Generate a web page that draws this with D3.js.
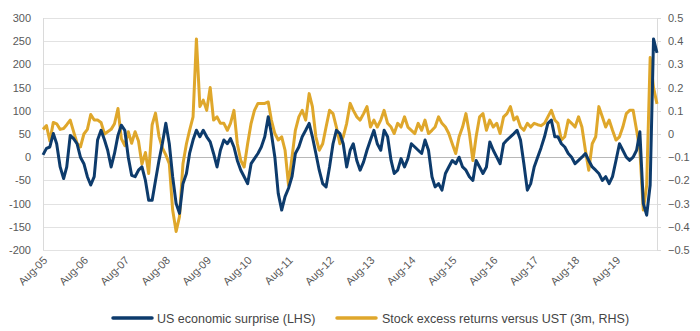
<!DOCTYPE html>
<html>
<head>
<meta charset="utf-8">
<script src="https://cdn.jsdelivr.net/npm/d3@7"></script>
<style>
  body { margin: 0; background: #fff; }
  text { font-family: "Liberation Sans", Arial, sans-serif; }
</style>
</head>
<body>
<script>
// monthly observations, Aug-05 .. Aug-20
var startMonth = new Date(2005, 7, 1);

var surprise = [
  5, 19, 22, 51, 29, -21, -46, -21, 47, 40, 29, 0,
  -14, -42, -60, -42, 37, 58, 37, 15, -21, 8, 47, 69,
  58, 0, -39, -42, -28, -21, -50, -93, -93, -50, -7, 29,
  73, 29, -42, -100, -121, -57, -35, 8, 37, 58, 44, 58,
  44, 33, 8, -21, 15, 37, 29, 40, 22, -7, -28, -42,
  -57, -14, -3, 8, 22, 44, 87, 51, 0, -78, -114, -85,
  -67, -42, 8, 22, 44, 58, 73, 44, 8, -28, -57, -64,
  -21, 29, 58, 51, 29, -21, 15, 29, -7, -28, -10, 15,
  37, 58, 29, 15, 58, 44, -7, -35, -28, -3, -21, -3,
  29, 22, 15, 8, 37, 15, -42, -64, -57, -71, -35, -21,
  -7, -14, 0, -21, -28, -42, -50, -7, -21, -35, -21, 33,
  15, 0, -14, 29, 37, 44, 51, 58, 37, -14, -71, -57,
  -21, 0, 20, 44, 73, 80, 44, 44, 29, 22, 8, 0,
  -14, -7, 0, 8, -7, -21, -28, -35, -50, -42, -57, -42,
  -7, 29, 15, 0, -7, 0, 15, 55, -100, -125, -60, 255,
  225
];

var excessRet = [
  0.02, 0.036, -0.03, 0.05, 0.044, 0.02, 0.024, 0.04, 0.06, 0.01, -0.04, -0.056,
  0, 0.02, 0.084, 0.06, 0.06, 0.05, 0, 0.01, 0.02, 0.044, 0.11, -0.02,
  -0.05, 0.01, -0.04, 0.01, -0.03, -0.13, -0.08, -0.17, 0.04, 0.09, -0.01, -0.06,
  -0.09, -0.128, -0.328, -0.42, -0.356, -0.128, -0.042, 0.016, 0.074, 0.41, 0.118, 0.146,
  0.102, 0.2, 0.06, 0.074, 0.046, 0.046, 0.016, 0.046, 0.102, -0.042, -0.114, -0.142,
  -0.042, 0.046, 0.102, 0.132, 0.132, 0.132, 0.138, 0.06, 0.002, -0.026, -0.012, -0.07,
  -0.22, -0.1, 0.016, 0.074, 0.102, 0.06, 0.174, 0.118, -0.012, -0.07, -0.042, 0.03,
  0.102, 0.088, 0.03, -0.042, -0.012, 0.046, 0.132, 0.102, 0.074, 0.06, 0.088, 0.118,
  0.03, 0.06, 0.03, 0.06, 0.102, 0.046, 0.03, 0.002, 0.046, 0.03, 0.074, 0.03,
  0.016, 0.002, 0.046, 0.016, 0.06, 0.002, 0.016, 0.03, 0.074, 0.046, 0.03, 0.002,
  -0.042, -0.084, -0.012, 0.03, 0.088, 0.002, -0.114, -0.012, 0.074, 0.088, 0.016, 0.06,
  0.03, 0.046, 0.002, 0.074, 0.088, 0.118, 0.06, 0.074, 0.03, 0.016, 0.046, 0.03,
  0.046, 0.04, 0.036, 0.046, 0.074, 0.102, 0.06, 0.046, -0.026, -0.012, 0.06, 0.046,
  0.03, 0.074, 0.03, -0.07, -0.156, -0.042, -0.012, 0.118, 0.074, 0.03, 0.06, 0.016,
  -0.026, -0.012, 0.03, 0.088, 0.102, 0.102, 0.016, -0.07, -0.328, -0.22, 0.33, 0.2,
  0.13
];

var leftTicks = [-200, -150, -100, -50, 0, 50, 100, 150, 200, 250, 300];
var rightTicks = [-0.5, -0.4, -0.3, -0.2, -0.1, 0, 0.1, 0.2, 0.3, 0.4, 0.5];
var tickYears = d3.range(2005, 2020);
var seriesNames = ["US economic surprise (LHS)", "Stock excess returns versus UST (3m, RHS)"];

var navy = "#0d3b6c", gold = "#dfa72b";

var width = 700, height = 331;
var margin = {top: 18, right: 43, bottom: 81, left: 43};

var svg = d3.select("body").append("svg")
  .attr("width", width)
  .attr("height", height);

var dates = surprise.map((d, i) => d3.timeMonth.offset(startMonth, i));

var x = d3.scaleTime()
  .domain([dates[0], dates[dates.length - 1]])
  .range([margin.left, width - margin.right]);

var yL = d3.scaleLinear().domain([-200, 300]).range([height - margin.bottom, margin.top]);
var yR = d3.scaleLinear().domain([-0.5, 0.5]).range([height - margin.bottom, margin.top]);

// gridlines
svg.append("g")
  .selectAll("line")
  .data(leftTicks)
  .join("line")
  .attr("x1", margin.left)
  .attr("x2", width - margin.right)
  .attr("y1", d => Math.round(yL(d)) + 0.5)
  .attr("y2", d => Math.round(yL(d)) + 0.5)
  .attr("stroke", d => d === 0 ? "#b8b8b8" : "#e2e2e2")
  .attr("stroke-width", 1);

// vertical axis lines
svg.append("line")
  .attr("x1", margin.left + 0.5).attr("x2", margin.left + 0.5)
  .attr("y1", yL(300)).attr("y2", yL(-200))
  .attr("stroke", "#dadada");
svg.append("line")
  .attr("x1", width - margin.right + 0.5).attr("x2", width - margin.right + 0.5)
  .attr("y1", yR(0.5)).attr("y2", yR(-0.5))
  .attr("stroke", "#dadada");

// right-hand small ticks
svg.append("g")
  .selectAll("line")
  .data(rightTicks)
  .join("line")
  .attr("x1", width - margin.right)
  .attr("x2", width - margin.right + 4)
  .attr("y1", d => Math.round(yR(d)) + 0.5)
  .attr("y2", d => Math.round(yR(d)) + 0.5)
  .attr("stroke", "#dadada");

// left labels
svg.append("g")
  .selectAll("text")
  .data(leftTicks)
  .join("text")
  .attr("x", 31)
  .attr("y", d => yL(d))
  .attr("dy", "0.36em")
  .attr("text-anchor", "end")
  .attr("font-size", 11)
  .attr("fill", "#595959")
  .text(d => d);

// right labels
svg.append("g")
  .selectAll("text")
  .data(rightTicks)
  .join("text")
  .attr("x", 668)
  .attr("y", d => yR(d))
  .attr("dy", "0.36em")
  .attr("text-anchor", "start")
  .attr("font-size", 11)
  .attr("fill", "#595959")
  .text(d => d === 0 ? "0" : d3.format(".1f")(d));

// x labels, rotated
svg.append("g")
  .selectAll("text")
  .data(tickYears)
  .join("text")
  .attr("transform", d => "translate(" + (x(new Date(d, 7, 1)) + 5) + "," + 261 + ") rotate(-45)")
  .attr("text-anchor", "end")
  .attr("font-size", 11)
  .attr("fill", "#595959")
  .text(d => "Aug-" + String(d).slice(2));

// lines
var lineL = d3.line().x((d, i) => x(dates[i])).y(d => yL(d));
var lineR = d3.line().x((d, i) => x(dates[i])).y(d => yR(d));

svg.append("path")
  .datum(excessRet)
  .attr("d", lineR)
  .attr("fill", "none")
  .attr("stroke", gold)
  .attr("stroke-width", 3)
  .attr("stroke-linejoin", "round");

svg.append("path")
  .datum(surprise)
  .attr("d", lineL)
  .attr("fill", "none")
  .attr("stroke", navy)
  .attr("stroke-width", 3)
  .attr("stroke-linejoin", "round");

// legend
var legend = svg.append("g");
var legendItems = [
  {name: seriesNames[0], color: navy, x0: 113, x1: 152, tx: 157},
  {name: seriesNames[1], color: gold, x0: 337, x1: 376, tx: 382}
];
legendItems.forEach(function(it){
  legend.append("line")
    .attr("x1", it.x0).attr("x2", it.x1)
    .attr("y1", 318).attr("y2", 318)
    .attr("stroke", it.color)
    .attr("stroke-width", 3.5)
    .attr("stroke-linecap", "round");
  legend.append("text")
    .attr("x", it.tx)
    .attr("y", 318)
    .attr("dy", "0.36em")
    .attr("font-size", 12.5)
    .attr("fill", "#444")
    .text(it.name);
});
</script>
</body>
</html>
